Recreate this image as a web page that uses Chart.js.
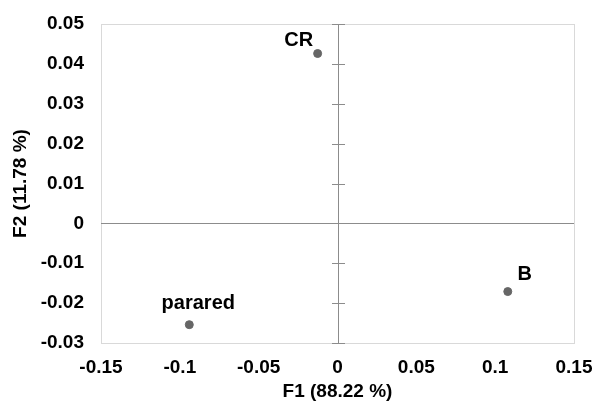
<!DOCTYPE html>
<html>
<head>
<meta charset="utf-8">
<script src="https://cdn.jsdelivr.net/npm/chart.js@4"></script>
<style>
  html, body { margin: 0; padding: 0; background: #fff; }
  #wrap { width: 595px; height: 405px; }
</style>
</head>
<body>
<div id="wrap"><canvas id="chart"></canvas></div>
<script>
// data
const names = ['CR', 'parared', 'B'];
const f1 = [-0.0126, -0.094, 0.108];
const f2 = [0.0426, -0.0254, -0.0171];
const xTicks = [-0.15, -0.1, -0.05, 0, 0.05, 0.1, 0.15];
const yTicks = [-0.03, -0.02, -0.01, 0, 0.01, 0.02, 0.03, 0.04, 0.05];

const FONT = "'Liberation Sans', Arial, sans-serif";

// where each label sits relative to its point
const labelOffset = { 'CR': [-19, -13], 'parared': [9, -21], 'B': [17, -17] };

const fmt = v => {
  if (Math.abs(v) < 1e-9) return '0';
  return String(Number(v.toFixed(2)));
};

// box, axes through zero, point labels
const pcaPlugin = {
  id: 'pca',
  beforeDatasetsDraw(chart) {
    const { ctx, chartArea: a, scales: { x, y } } = chart;
    ctx.save();
    ctx.strokeStyle = '#d9d9d9';
    ctx.lineWidth = 1;
    ctx.strokeRect(Math.round(a.left) + 0.5, Math.round(a.top) + 0.5,
      Math.round(a.right - a.left), Math.round(a.bottom - a.top));

    ctx.strokeStyle = '#8c8c8c';
    const x0 = Math.round(x.getPixelForValue(0)) + 0.5;
    const y0 = Math.round(y.getPixelForValue(0)) + 0.5;
    ctx.beginPath();
    ctx.moveTo(a.left, y0); ctx.lineTo(a.right, y0);
    ctx.moveTo(x0, a.top); ctx.lineTo(x0, a.bottom);
    yTicks.forEach(t => {
      const py = Math.round(y.getPixelForValue(t)) + 0.5;
      ctx.moveTo(x0 - 6.5, py); ctx.lineTo(x0 + 6.5, py);
    });
    ctx.stroke();
    ctx.restore();
  },
  afterDatasetsDraw(chart) {
    const { ctx } = chart;
    const meta = chart.getDatasetMeta(0);
    ctx.save();
    ctx.font = 'bold 20px ' + FONT;
    ctx.fillStyle = '#000';
    ctx.textAlign = 'center';
    ctx.textBaseline = 'middle';
    meta.data.forEach((pt, i) => {
      const off = labelOffset[names[i]];
      ctx.fillText(names[i], pt.x + off[0], pt.y + off[1]);
    });
    ctx.restore();
  }
};

new Chart(document.getElementById('chart'), {
  type: 'scatter',
  data: {
    datasets: [{
      data: f1.map((v, i) => ({ x: v, y: f2[i] })),
      backgroundColor: '#666666',
      borderColor: '#666666',
      pointRadius: 4,
      pointHoverRadius: 4
    }]
  },
  options: {
    responsive: true,
    maintainAspectRatio: false,
    animation: false,
    events: [],
    layout: { padding: { top: 24, right: 21, left: 0, bottom: 0 } },
    plugins: { legend: { display: false }, tooltip: { enabled: false } },
    scales: {
      x: {
        type: 'linear',
        min: -0.15, max: 0.15,
        afterBuildTicks: s => { s.ticks = xTicks.map(v => ({ value: v })); },
        grid: { display: false },
        border: { display: false },
        ticks: {
          padding: 5,
          color: '#000',
          font: { family: FONT, size: 19, weight: 'bold' },
          callback: v => fmt(v)
        },
        title: {
          display: true,
          text: 'F1 (88.22 %)',
          color: '#000',
          font: { family: FONT, size: 19, weight: 'bold' },
          padding: { top: 0, bottom: 2 }
        },
        afterFit: s => { s.height = 62; s.paddingLeft = 0; s.paddingRight = 0; }
      },
      y: {
        type: 'linear',
        min: -0.03, max: 0.05,
        afterBuildTicks: s => { s.ticks = yTicks.map(v => ({ value: v })); },
        grid: { display: false },
        border: { display: false },
        ticks: {
          padding: 9,
          color: '#000',
          font: { family: FONT, size: 19, weight: 'bold' },
          callback: v => fmt(v)
        },
        title: {
          display: true,
          text: 'F2 (11.78 %)',
          color: '#000',
          font: { family: FONT, size: 19, weight: 'bold' },
          padding: { top: 9, bottom: 0 }
        },
        afterFit: s => { s.width = 101; s.paddingTop = 0; s.paddingBottom = 0; }
      }
    }
  },
  plugins: [pcaPlugin]
});
</script>
</body>
</html>
